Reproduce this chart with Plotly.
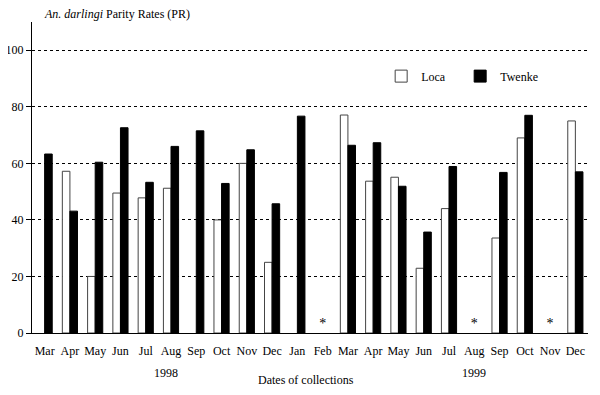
import plotly.graph_objects as go

months = ["Mar", "Apr", "May", "Jun", "Jul", "Aug", "Sep", "Oct", "Nov", "Dec", "Jan",
          "Feb", "Mar", "Apr", "May", "Jun", "Jul", "Aug", "Sep", "Oct", "Nov", "Dec"]
loca = [None, 57.2, 20, 49.5, 47.8, 51.2, None, 40, 60, 25, None,
        None, 77.1, 53.7, 55.1, 22.9, 44, None, 33.6, 69, None, 75]
twenke = [63.3, 43.1, 60.4, 72.6, 53.3, 66, 71.5, 52.9, 64.8, 45.7, 76.7,
          None, 66.4, 67.3, 51.9, 35.7, 58.9, None, 56.8, 77, None, 57]
missing_idx = [11, 17, 20]
missing_y = [3, 3, 3]

x = list(range(len(months)))
FONT = "Liberation Serif, Times New Roman, serif"

fig = go.Figure()
fig.add_trace(go.Bar(x=x, y=loca, name="Loca",
                     marker=dict(color="white", line=dict(color="#444", width=1))))
fig.add_trace(go.Bar(x=x, y=twenke, name="Twenke",
                     marker=dict(color="black", line=dict(color="black", width=1))))
fig.add_trace(go.Scatter(x=missing_idx, y=missing_y, mode="text", text=["*"] * 3,
                         textfont=dict(size=14, color="#000000", family=FONT),
                         showlegend=False, hoverinfo="skip"))

fig.update_layout(
    width=592, height=387,
    margin=dict(l=24, r=12, t=14, b=62, autoexpand=False),
    paper_bgcolor="white", plot_bgcolor="white",
    font=dict(family=FONT, size=12, color="black"),
    barmode="group", bargap=0.4, bargroupgap=0,
    showlegend=True,
    legend=dict(orientation="h", x=0.628, y=0.826, xanchor="left", yanchor="middle",
                font=dict(size=12, family=FONT), entrywidth=34, entrywidthmode="pixels",
                bgcolor="rgba(0,0,0,0)", itemwidth=30),
)
fig.update_xaxes(
    range=[-0.5, 21.5], tickmode="array", tickvals=x, ticktext=months, tickangle=0,
    showline=True, linecolor="black", linewidth=1, showgrid=False, zeroline=False,
    ticks="", ticklabelstandoff=7, tickfont=dict(size=12),
)
fig.update_yaxes(
    range=[0, 110], tickvals=[0, 20, 40, 60, 80, 100],
    showline=True, linecolor="black", linewidth=1,
    showgrid=True, gridcolor="black", gridwidth=1, griddash="dot",
    zeroline=False, ticks="outside", ticklen=5, tickcolor="black",
    tickfont=dict(size=12),
)
fig.add_annotation(text="<i>An. darlingi</i> Parity Rates (PR)", xref="paper", yref="paper",
                   x=0.018, y=1.0, yshift=8, xanchor="left", yanchor="middle",
                   showarrow=False, font=dict(size=12, family=FONT))
fig.add_annotation(text="1998", xref="paper", yref="paper", x=(166 - 32) / 556, y=0,
                   yshift=-40, xanchor="center", yanchor="middle", showarrow=False,
                   font=dict(size=12, family=FONT))
fig.add_annotation(text="1999", xref="paper", yref="paper", x=(474 - 32) / 556, y=0,
                   yshift=-40, xanchor="center", yanchor="middle", showarrow=False,
                   font=dict(size=12, family=FONT))
fig.add_annotation(text="Dates of collections", xref="paper", yref="paper",
                   x=(306 - 32) / 556, y=0, yshift=-47, xanchor="center", yanchor="middle",
                   showarrow=False, font=dict(size=12, family=FONT))

fig.write_html("out.html")
